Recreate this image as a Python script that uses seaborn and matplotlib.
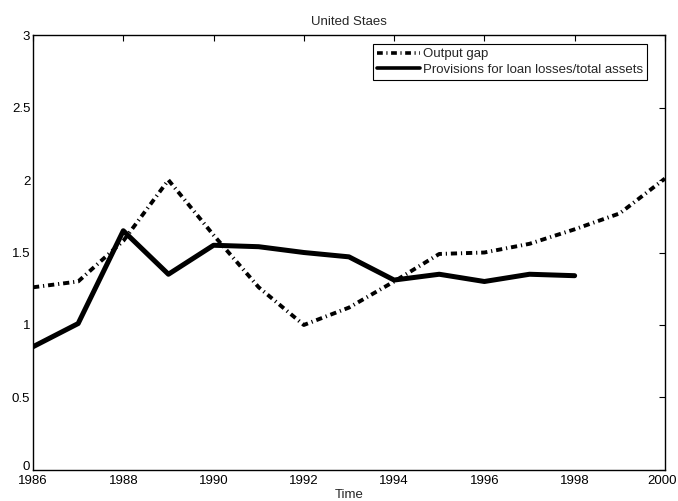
import matplotlib
matplotlib.use("Agg")
import matplotlib.pyplot as plt
import matplotlib.transforms as mtransforms
import seaborn as sns
import pandas as pd

years = list(range(1986, 2001))
output_gap = [1.26, 1.30, 1.58, 2.00, 1.62, 1.26, 1.00, 1.12, 1.30, 1.49, 1.50, 1.56, 1.66, 1.77, 2.01]
prov_years = list(range(1986, 1999))
provisions = [0.85, 1.01, 1.65, 1.35, 1.55, 1.54, 1.50, 1.47, 1.31, 1.35, 1.30, 1.35, 1.34]
x_ticks = list(range(1986, 2001, 2))
y_ticks = [0, 0.5, 1, 1.5, 2, 2.5, 3]

sns.set_style("white")
plt.rcParams["font.family"] = ["Liberation Sans", "DejaVu Sans"]

fig = plt.figure(figsize=(6.78, 5.01), dpi=100)
ax = fig.add_axes([0.0487, 0.062, 0.932, 0.868])

gap_df = pd.DataFrame({"Time": years, "value": output_gap})
prov_df = pd.DataFrame({"Time": prov_years, "value": provisions})

sns.lineplot(data=gap_df, x="Time", y="value", ax=ax, color="black",
             linewidth=2.8, dashes=False, label="Output gap")
ax.lines[-1].set_linestyle((0, (1.6, 1.0, 0.3, 1.0)))
sns.lineplot(data=prov_df, x="Time", y="value", ax=ax, color="black",
             linewidth=3.6, label="Provisions for loan losses/total assets")

ax.set_xlim(1986, 2000)
ax.set_ylim(0, 3)
ax.set_xticks(x_ticks)
ax.set_yticks(y_ticks)
ax.set_yticklabels(["0", "0.5", "1", "1.5", "2", "2.5", "3"])
ax.set_xlabel("Time", fontsize=9.5, labelpad=1)
ax.set_ylabel("")
ax.set_title("United Staes", fontsize=9.5, pad=7)
ax.tick_params(axis="both", direction="in", length=4, width=0.8, labelsize=9.5,
               top=True, right=True, colors="black")
ax.tick_params(axis="x", pad=4)
ax.tick_params(axis="y", pad=2)

# lift the bottom y label slightly so it sits clear of the first year label
zero_lbl = ax.get_yticklabels()[0]
zero_lbl.set_transform(zero_lbl.get_transform() +
                       mtransforms.ScaledTranslation(0, 4 / 100, fig.dpi_scale_trans))
# keep the last year label inside the figure edge
last_lbl = ax.get_xticklabels()[-1]
last_lbl.set_transform(last_lbl.get_transform() +
                       mtransforms.ScaledTranslation(-3 / 100, 0, fig.dpi_scale_trans))

for s in ax.spines.values():
    s.set_visible(True)
    s.set_color("black")
    s.set_linewidth(1.0)

leg = ax.legend(loc="upper right", bbox_to_anchor=(0.9715, 0.979), fontsize=9.5,
                frameon=True, fancybox=False, edgecolor="black", framealpha=1,
                handlelength=3.2, handletextpad=0.25, borderpad=0.3,
                labelspacing=0.25, borderaxespad=0)
leg.get_frame().set_linewidth(0.8)
for h in leg.get_lines():
    h.set_linewidth(2.6)

fig.savefig("out.png", dpi=100, facecolor="white")
